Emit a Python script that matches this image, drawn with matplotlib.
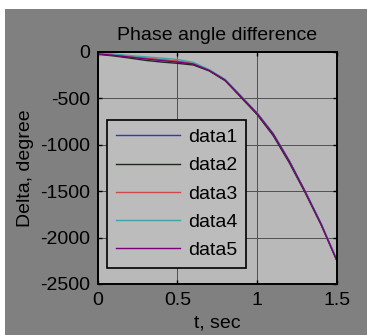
import matplotlib
matplotlib.use("Agg")
import matplotlib.pyplot as plt
from matplotlib.patches import Rectangle

plt.rcParams['font.family'] = ['Liberation Sans', 'DejaVu Sans']
plt.rcParams['axes.unicode_minus'] = False

t = [0, 0.1, 0.2, 0.3, 0.4, 0.5, 0.6, 0.7, 0.8, 0.9, 1.0, 1.1, 1.2, 1.3, 1.4, 1.5]
data1 = [-15, -30, -48, -68, -86, -102, -128, -198, -302, -482, -662, -882, -1172, -1502, -1852, -2248]
data2 = [-25, -42, -65, -90, -108, -122, -140, -204, -310, -492, -675, -900, -1190, -1515, -1862, -2252]
data3 = [-18, -32, -50, -66, -82, -98, -125, -196, -300, -480, -660, -880, -1170, -1500, -1850, -2245]
data4 = [-8, -22, -38, -52, -66, -80, -112, -190, -296, -476, -656, -876, -1166, -1496, -1846, -2240]
data5 = [-20, -36, -55, -74, -92, -108, -130, -199, -303, -483, -663, -883, -1173, -1503, -1853, -2250]
series = [("data1", data1), ("data2", data2), ("data3", data3), ("data4", data4), ("data5", data5)]
colors = ["#3535c0", "#1c2c1c", "#d04848", "#40a4a4", "#780078"]
xticks = [0, 0.5, 1, 1.5]
yticks = [0, -500, -1000, -1500, -2000, -2500]

W, H = 367, 335
fig = plt.figure(figsize=(W / 100, H / 100), dpi=100, facecolor="white")
fig.patches.append(Rectangle((5 / W, 0), 1 - 5 / W, (H - 9) / H, transform=fig.transFigure,
                             facecolor="#808080", edgecolor="none", zorder=-10))

ax = fig.add_axes([97.5 / W, (H - 284) / H, (337 - 97.5) / W, (284 - 52) / H])
ax.set_facecolor("#b9b9b9")
for (name, y), c in zip(series, colors):
    ax.plot(t, y, color=c, lw=1.0, label=name)

ax.set_xlim(0, 1.5)
ax.set_ylim(-2500, 0)
ax.set_xticks(xticks)
ax.set_xticklabels(["0", "0.5", "1", "1.5"])
ax.set_yticks(yticks)
ax.grid(True, color="#505050", lw=0.7)
ax.tick_params(direction="in", length=3, width=1, top=True, right=True, labelsize=14,
               colors="black")
ax.tick_params(axis="x", pad=6)
ax.tick_params(axis="y", pad=5)
for s in ax.spines.values():
    s.set_linewidth(1.4)
    s.set_color("black")

ax.set_title("Phase angle difference", fontsize=14, pad=9)
ax.set_xlabel("t, sec", fontsize=14, labelpad=4)
ax.set_ylabel("Delta, degree", fontsize=14, labelpad=5)

leg = ax.legend(loc="lower left", bbox_to_anchor=((107 - 97.5) / (337 - 97.5), (284 - 268) / (284 - 52)),
                fontsize=14, frameon=True, fancybox=False, handlelength=3.3, handletextpad=0.4,
                labelspacing=0.55, borderpad=0.45, borderaxespad=0)
leg.get_frame().set_facecolor("#bcbcbc")
leg.get_frame().set_edgecolor("black")
leg.get_frame().set_linewidth(1.2)
leg.get_frame().set_alpha(1)

fig.savefig("out.png", dpi=100, facecolor=fig.get_facecolor())
